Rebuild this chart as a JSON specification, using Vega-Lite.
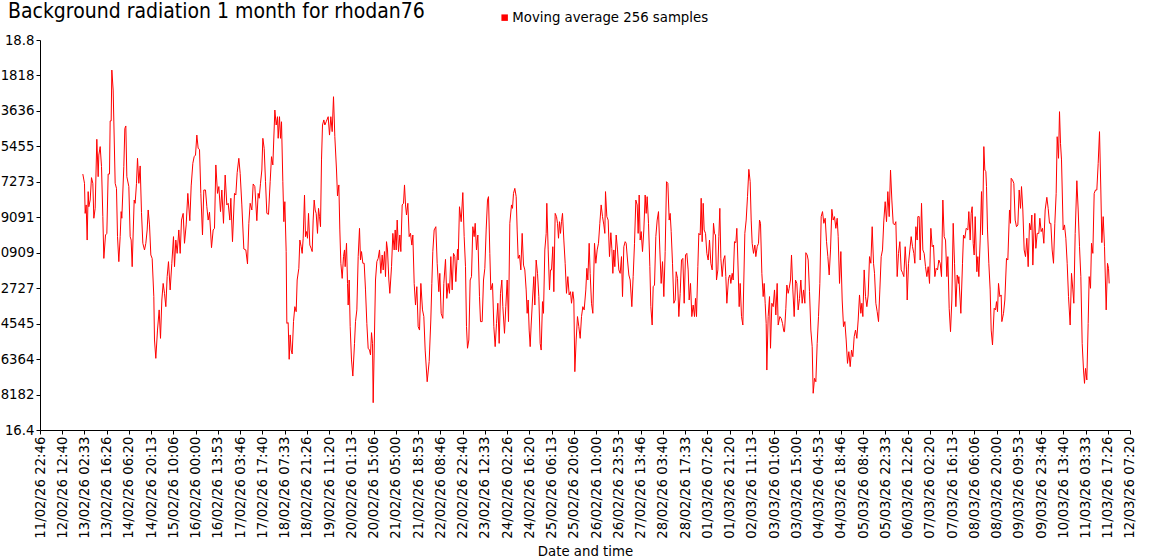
{
  "$schema": "https://vega.github.io/schema/vega-lite/v6.json",
  "autosize": {"type": "none"},
  "width": 1090,
  "height": 390,
  "padding": {"left": 40, "top": 40, "right": 20, "bottom": 130},
  "background": "white",
  "title": {
    "text": "Background radiation 1 month for rhodan76",
    "anchor": "start",
    "frame": "group",
    "orient": "top",
    "offset": 18,
    "dy": 29,
    "dx": -32,
    "font": "DejaVu Sans Condensed, Liberation Sans",
    "fontSize": 21,
    "fontWeight": "normal",
    "color": "#000000"
  },
  "config": {
    "view": {"stroke": null},
    "axis": {
      "grid": false,
      "domainColor": "#000000",
      "tickColor": "#000000",
      "labelColor": "#000000",
      "titleColor": "#000000",
      "labelFont": "DejaVu Sans",
      "titleFont": "DejaVu Sans",
      "labelFontSize": 13.3,
      "titleFontSize": 13.3,
      "titleFontWeight": "normal",
      "tickSize": 4,
      "domainWidth": 1,
      "tickWidth": 1
    }
  },
  "data": {
    "values": [
      {"h":26.74,"v":17.975},{"h":27.78,"v":17.918},{"h":28.20,"v":17.733},{"h":28.82,"v":17.785},{"h":29.45,"v":17.569},{"h":30.07,"v":17.867},{"h":30.49,"v":17.774},{"h":31.32,"v":17.815},{"h":32.15,"v":17.953},{"h":32.99,"v":17.918},{"h":33.61,"v":17.703},{"h":34.44,"v":17.764},{"h":35.48,"v":18.189},{"h":36.32,"v":17.959},{"h":36.73,"v":18.092},{"h":37.57,"v":18.144},{"h":38.40,"v":18.021},{"h":39.23,"v":17.713},{"h":39.86,"v":17.456},{"h":40.90,"v":17.600},{"h":41.73,"v":17.610},{"h":42.56,"v":17.975},{"h":43.39,"v":17.975},{"h":43.81,"v":18.302},{"h":44.43,"v":18.302},{"h":44.85,"v":18.615},{"h":45.68,"v":18.492},{"h":46.93,"v":17.918},{"h":47.76,"v":17.887},{"h":48.39,"v":17.590},{"h":49.22,"v":17.436},{"h":50.05,"v":17.590},{"h":50.68,"v":17.744},{"h":51.09,"v":17.703},{"h":52.34,"v":18.021},{"h":52.97,"v":18.256},{"h":53.59,"v":18.271},{"h":54.22,"v":17.959},{"h":55.47,"v":17.898},{"h":56.30,"v":17.590},{"h":56.92,"v":17.569},{"h":57.55,"v":17.405},{"h":58.80,"v":17.815},{"h":59.42,"v":17.795},{"h":60.25,"v":17.918},{"h":60.88,"v":18.072},{"h":61.71,"v":17.918},{"h":62.54,"v":18.025},{"h":63.37,"v":17.738},{"h":64.21,"v":17.549},{"h":65.25,"v":17.508},{"h":66.08,"v":17.549},{"h":66.91,"v":17.631},{"h":67.54,"v":17.754},{"h":68.37,"v":17.662},{"h":69.20,"v":17.477},{"h":70.03,"v":17.456},{"h":71.07,"v":17.221},{"h":71.49,"v":16.954},{"h":72.32,"v":16.841},{"h":73.36,"v":17.015},{"h":74.40,"v":17.139},{"h":75.24,"v":16.964},{"h":76.07,"v":17.200},{"h":76.90,"v":17.302},{"h":77.74,"v":17.241},{"h":78.57,"v":17.159},{"h":79.40,"v":17.344},{"h":80.23,"v":17.436},{"h":81.27,"v":17.262},{"h":82.31,"v":17.426},{"h":83.35,"v":17.590},{"h":83.98,"v":17.405},{"h":84.81,"v":17.569},{"h":85.64,"v":17.487},{"h":86.68,"v":17.631},{"h":87.52,"v":17.487},{"h":88.35,"v":17.692},{"h":89.39,"v":17.733},{"h":90.22,"v":17.549},{"h":91.26,"v":17.662},{"h":92.30,"v":17.856},{"h":93.55,"v":17.688},{"h":94.39,"v":17.902},{"h":95.43,"v":18.041},{"h":96.26,"v":18.082},{"h":97.09,"v":18.092},{"h":97.92,"v":18.215},{"h":98.76,"v":18.133},{"h":99.59,"v":18.127},{"h":100.42,"v":17.856},{"h":101.46,"v":17.600},{"h":102.29,"v":17.877},{"h":103.33,"v":17.877},{"h":104.17,"v":17.774},{"h":105.00,"v":17.692},{"h":105.83,"v":17.740},{"h":107.08,"v":17.522},{"h":108.12,"v":17.631},{"h":108.95,"v":17.641},{"h":109.79,"v":18.031},{"h":110.83,"v":17.856},{"h":111.66,"v":17.898},{"h":112.70,"v":17.744},{"h":113.53,"v":17.877},{"h":114.57,"v":17.672},{"h":115.61,"v":17.969},{"h":116.65,"v":17.785},{"h":117.49,"v":17.795},{"h":118.53,"v":17.692},{"h":119.15,"v":17.826},{"h":120.19,"v":17.559},{"h":121.44,"v":17.856},{"h":122.27,"v":17.846},{"h":123.11,"v":17.984},{"h":124.15,"v":18.072},{"h":124.98,"v":17.979},{"h":126.02,"v":17.785},{"h":127.27,"v":17.514},{"h":128.52,"v":17.508},{"h":129.56,"v":17.422},{"h":130.39,"v":17.672},{"h":131.22,"v":17.795},{"h":132.27,"v":17.754},{"h":133.10,"v":17.914},{"h":134.14,"v":17.898},{"h":135.39,"v":17.688},{"h":136.22,"v":17.856},
      {"h":136.85,"v":17.826},{"h":137.68,"v":17.918},{"h":138.51,"v":18.000},{"h":139.14,"v":18.195},{"h":139.97,"v":18.133},{"h":140.80,"v":17.928},{"h":141.63,"v":17.733},{"h":142.67,"v":17.727},{"h":143.71,"v":17.928},{"h":144.55,"v":18.082},{"h":145.38,"v":18.031},{"h":146.63,"v":18.369},{"h":147.46,"v":18.277},{"h":148.29,"v":18.328},{"h":148.71,"v":18.195},{"h":149.54,"v":18.328},{"h":150.17,"v":18.195},{"h":150.79,"v":18.297},{"h":151.62,"v":17.928},{"h":152.25,"v":17.682},{"h":152.87,"v":17.805},{"h":153.70,"v":17.498},{"h":154.12,"v":17.056},{"h":154.95,"v":17.061},{"h":155.58,"v":16.835},{"h":156.20,"v":16.985},{"h":156.83,"v":16.892},{"h":157.45,"v":16.868},{"h":158.28,"v":17.067},{"h":159.12,"v":17.159},{"h":159.95,"v":17.128},{"h":160.57,"v":17.323},{"h":161.61,"v":17.395},{"h":162.24,"v":17.569},{"h":163.07,"v":17.528},{"h":163.69,"v":17.487},{"h":164.32,"v":17.580},{"h":165.15,"v":17.846},{"h":165.78,"v":17.590},{"h":166.40,"v":17.621},{"h":167.02,"v":17.580},{"h":167.65,"v":17.733},{"h":168.48,"v":17.538},{"h":169.31,"v":17.518},{"h":169.94,"v":17.498},{"h":170.56,"v":17.692},{"h":171.19,"v":17.815},{"h":171.81,"v":17.754},{"h":172.44,"v":17.733},{"h":173.27,"v":17.610},{"h":173.89,"v":17.764},{"h":174.52,"v":17.713},{"h":175.14,"v":17.651},{"h":175.77,"v":18.062},{"h":176.39,"v":18.277},{"h":177.22,"v":18.308},{"h":177.85,"v":18.277},{"h":178.68,"v":18.297},{"h":179.93,"v":18.328},{"h":180.76,"v":18.215},{"h":181.59,"v":18.328},{"h":182.43,"v":18.236},{"h":183.26,"v":18.451},{"h":184.09,"v":18.205},{"h":185.13,"v":18.000},{"h":185.76,"v":17.840},{"h":186.59,"v":17.908},{"h":187.21,"v":17.631},{"h":187.84,"v":17.426},{"h":188.67,"v":17.333},{"h":189.50,"v":17.467},{"h":190.13,"v":17.508},{"h":190.54,"v":17.405},{"h":191.38,"v":17.549},{"h":192.00,"v":17.302},{"h":192.42,"v":17.169},{"h":193.04,"v":17.323},{"h":193.67,"v":17.036},{"h":194.50,"v":16.831},{"h":195.33,"v":16.732},{"h":196.37,"v":16.933},{"h":196.99,"v":17.067},{"h":197.83,"v":17.139},{"h":198.66,"v":17.467},{"h":199.49,"v":17.641},{"h":200.12,"v":17.446},{"h":200.74,"v":17.498},{"h":201.57,"v":17.426},{"h":202.41,"v":17.426},{"h":203.24,"v":17.262},{"h":204.07,"v":17.056},{"h":204.90,"v":16.903},{"h":205.74,"v":16.892},{"h":206.36,"v":16.862},{"h":206.99,"v":16.999},{"h":207.61,"v":16.933},{"h":208.03,"v":16.568},{"h":208.65,"v":16.892},{"h":209.48,"v":17.323},{"h":210.32,"v":17.436},{"h":211.15,"v":17.456},{"h":211.98,"v":17.508},{"h":212.81,"v":17.364},{"h":213.65,"v":17.477},{"h":214.27,"v":17.385},{"h":215.10,"v":17.498},{"h":215.73,"v":17.344},{"h":216.35,"v":17.559},{"h":216.98,"v":17.508},{"h":217.81,"v":17.323},{"h":218.43,"v":17.241},{"h":219.48,"v":17.405},{"h":220.31,"v":17.610},{"h":221.14,"v":17.508},{"h":221.77,"v":17.631},{"h":222.39,"v":17.508},{"h":223.01,"v":17.692},{"h":223.85,"v":17.498},{"h":224.68,"v":17.600},{"h":225.30,"v":17.498},{"h":226.14,"v":17.785},{"h":226.97,"v":17.795},{"h":227.59,"v":17.908},{"h":228.22,"v":17.785},{"h":228.84,"v":17.723},{"h":229.67,"v":17.795},{"h":230.51,"v":17.590},{"h":231.34,"v":17.610},{"h":232.17,"v":17.538},{"h":232.79,"v":17.600},{"h":233.63,"v":17.302},{"h":234.46,"v":17.169},{"h":235.29,"v":17.282},{"h":236.12,"v":17.036},{"h":236.96,"v":17.015},{"h":237.79,"v":17.302},{"h":238.83,"v":17.139},{"h":239.66,"v":17.098},{"h":240.49,"v":16.892},
      {"h":241.74,"v":16.697},{"h":242.98,"v":16.821},{"h":244.02,"v":17.077},{"h":244.65,"v":17.302},{"h":245.27,"v":17.498},{"h":246.11,"v":17.631},{"h":247.15,"v":17.651},{"h":247.98,"v":17.426},{"h":249.02,"v":17.251},{"h":249.64,"v":17.364},{"h":250.48,"v":17.118},{"h":251.52,"v":17.087},{"h":252.14,"v":17.302},{"h":253.18,"v":17.450},{"h":254.01,"v":17.210},{"h":254.85,"v":17.302},{"h":255.68,"v":17.241},{"h":256.51,"v":17.467},{"h":257.35,"v":17.262},{"h":258.18,"v":17.487},{"h":259.01,"v":17.467},{"h":259.63,"v":17.313},{"h":260.68,"v":17.512},{"h":261.09,"v":17.446},{"h":261.92,"v":17.774},{"h":262.96,"v":17.682},{"h":264.00,"v":17.861},{"h":264.84,"v":17.590},{"h":265.67,"v":17.405},{"h":266.29,"v":17.036},{"h":266.92,"v":16.903},{"h":267.75,"v":16.954},{"h":268.58,"v":17.323},{"h":269.42,"v":17.344},{"h":270.25,"v":17.651},{"h":271.08,"v":17.590},{"h":271.71,"v":17.672},{"h":272.54,"v":17.508},{"h":273.37,"v":17.600},{"h":274.41,"v":17.221},{"h":275.04,"v":17.067},{"h":276.08,"v":17.067},{"h":276.91,"v":17.323},{"h":277.74,"v":17.395},{"h":278.57,"v":17.631},{"h":279.41,"v":17.815},{"h":280.03,"v":17.836},{"h":280.86,"v":17.487},{"h":281.49,"v":17.262},{"h":282.53,"v":17.302},{"h":283.36,"v":17.036},{"h":284.19,"v":16.913},{"h":285.03,"v":17.056},{"h":285.86,"v":17.180},{"h":286.69,"v":16.933},{"h":287.52,"v":17.241},{"h":288.36,"v":17.323},{"h":288.98,"v":17.159},{"h":290.02,"v":16.995},{"h":290.85,"v":17.159},{"h":291.69,"v":17.323},{"h":292.52,"v":17.067},{"h":293.35,"v":17.672},{"h":294.39,"v":17.785},{"h":295.02,"v":17.764},{"h":295.64,"v":17.856},{"h":296.47,"v":17.887},{"h":297.31,"v":17.836},{"h":297.93,"v":17.631},{"h":298.55,"v":17.456},{"h":299.39,"v":17.477},{"h":300.22,"v":17.385},{"h":301.05,"v":17.610},{"h":301.89,"v":17.415},{"h":302.72,"v":17.385},{"h":303.55,"v":17.262},{"h":304.17,"v":17.118},{"h":304.80,"v":17.200},{"h":305.42,"v":17.015},{"h":306.05,"v":16.913},{"h":306.67,"v":17.046},{"h":307.50,"v":17.200},{"h":308.34,"v":17.344},{"h":308.96,"v":17.169},{"h":309.79,"v":17.446},{"h":310.63,"v":17.364},{"h":311.46,"v":17.221},{"h":312.29,"v":16.933},{"h":312.92,"v":16.892},{"h":313.75,"v":17.190},{"h":314.37,"v":17.118},{"h":315.20,"v":17.508},{"h":316.04,"v":17.610},{"h":316.45,"v":17.795},{"h":317.29,"v":17.508},{"h":318.12,"v":17.262},{"h":318.74,"v":17.385},{"h":319.37,"v":17.385},{"h":320.20,"v":17.528},{"h":320.83,"v":17.251},{"h":321.66,"v":17.733},{"h":322.49,"v":17.713},{"h":323.11,"v":17.672},{"h":323.74,"v":17.580},{"h":324.36,"v":17.682},{"h":324.99,"v":17.610},{"h":325.61,"v":17.682},{"h":326.24,"v":17.733},{"h":327.07,"v":17.569},{"h":327.90,"v":17.426},{"h":328.73,"v":17.241},{"h":329.57,"v":17.344},{"h":330.40,"v":17.231},{"h":331.23,"v":17.251},{"h":331.86,"v":17.180},{"h":332.69,"v":17.251},{"h":333.31,"v":17.200},{"h":333.94,"v":16.759},{"h":334.77,"v":16.954},{"h":335.60,"v":17.098},{"h":336.43,"v":17.036},{"h":337.27,"v":16.964},{"h":338.10,"v":17.098},{"h":338.93,"v":17.159},{"h":339.76,"v":17.139},{"h":340.80,"v":17.262},{"h":341.43,"v":17.395},{"h":342.05,"v":17.323},{"h":342.88,"v":17.549},{"h":343.51,"v":17.364},{"h":344.34,"v":17.180},{"h":345.18,"v":17.118},{"h":346.22,"v":17.549},{"h":347.05,"v":17.426},{"h":347.88,"v":17.508},{"h":348.71,"v":17.549},{"h":349.55,"v":17.672},{"h":350.38,"v":17.785},{"h":351.21,"v":17.713},{"h":352.04,"v":17.662},{"h":352.67,"v":17.610},{"h":353.09,"v":17.867},{"h":353.92,"v":17.713},{"h":354.75,"v":17.692},
      {"h":355.58,"v":17.467},{"h":356.42,"v":17.614},{"h":357.04,"v":17.518},{"h":357.67,"v":17.364},{"h":358.29,"v":17.508},{"h":358.91,"v":17.405},{"h":359.75,"v":17.600},{"h":360.58,"v":17.508},{"h":361.41,"v":17.385},{"h":362.24,"v":17.364},{"h":363.08,"v":17.467},{"h":363.70,"v":17.221},{"h":364.53,"v":17.528},{"h":365.37,"v":17.559},{"h":365.99,"v":17.549},{"h":366.82,"v":17.446},{"h":367.66,"v":17.354},{"h":368.49,"v":17.323},{"h":369.53,"v":17.159},{"h":370.36,"v":17.344},{"h":371.19,"v":17.549},{"h":372.03,"v":17.815},{"h":372.86,"v":17.785},{"h":373.48,"v":17.610},{"h":374.11,"v":17.846},{"h":374.73,"v":17.569},{"h":375.36,"v":17.621},{"h":376.19,"v":17.498},{"h":377.02,"v":17.631},{"h":377.85,"v":17.846},{"h":378.48,"v":17.733},{"h":379.10,"v":17.836},{"h":379.94,"v":17.672},{"h":380.77,"v":17.405},{"h":381.39,"v":17.159},{"h":382.22,"v":17.046},{"h":382.85,"v":17.282},{"h":383.68,"v":17.292},{"h":384.51,"v":17.590},{"h":385.35,"v":17.692},{"h":386.18,"v":17.744},{"h":387.01,"v":17.508},{"h":387.84,"v":17.302},{"h":388.68,"v":17.436},{"h":389.51,"v":17.221},{"h":390.34,"v":17.498},{"h":391.17,"v":17.928},{"h":392.01,"v":17.918},{"h":392.84,"v":17.692},{"h":393.46,"v":17.733},{"h":394.09,"v":17.621},{"h":394.92,"v":17.426},{"h":395.75,"v":17.180},{"h":396.59,"v":17.200},{"h":397.21,"v":17.374},{"h":398.04,"v":17.333},{"h":398.87,"v":17.098},{"h":399.71,"v":17.241},{"h":400.54,"v":17.446},{"h":401.37,"v":17.456},{"h":402.21,"v":17.180},{"h":403.04,"v":17.477},{"h":403.87,"v":17.487},{"h":404.70,"v":17.385},{"h":405.33,"v":17.200},{"h":406.16,"v":17.302},{"h":406.99,"v":17.098},{"h":407.82,"v":17.169},{"h":408.66,"v":17.098},{"h":409.28,"v":17.210},{"h":409.91,"v":17.098},{"h":410.74,"v":17.405},{"h":411.36,"v":17.610},{"h":412.20,"v":17.600},{"h":412.82,"v":17.826},{"h":413.44,"v":17.559},{"h":414.07,"v":17.795},{"h":414.69,"v":17.631},{"h":415.53,"v":17.610},{"h":416.36,"v":17.487},{"h":417.19,"v":17.446},{"h":418.02,"v":17.569},{"h":418.86,"v":17.426},{"h":419.69,"v":17.385},{"h":420.52,"v":17.672},{"h":421.14,"v":17.610},{"h":421.77,"v":17.600},{"h":422.39,"v":17.323},{"h":423.23,"v":17.385},{"h":423.85,"v":17.590},{"h":424.47,"v":17.764},{"h":425.10,"v":17.456},{"h":425.93,"v":17.344},{"h":426.76,"v":17.446},{"h":427.60,"v":17.473},{"h":428.22,"v":17.344},{"h":428.85,"v":17.180},{"h":429.89,"v":17.333},{"h":430.72,"v":17.354},{"h":431.34,"v":17.302},{"h":432.18,"v":17.364},{"h":432.80,"v":17.323},{"h":433.63,"v":17.559},{"h":434.47,"v":17.553},{"h":435.09,"v":17.641},{"h":435.72,"v":17.446},{"h":436.55,"v":17.159},{"h":437.17,"v":17.302},{"h":438.00,"v":17.098},{"h":438.84,"v":17.046},{"h":439.46,"v":17.323},{"h":440.08,"v":17.610},{"h":440.92,"v":17.692},{"h":441.75,"v":17.836},{"h":442.58,"v":18.004},{"h":443.41,"v":17.928},{"h":444.04,"v":17.692},{"h":444.66,"v":17.549},{"h":445.50,"v":17.487},{"h":446.33,"v":17.538},{"h":446.95,"v":17.467},{"h":447.79,"v":17.528},{"h":448.62,"v":17.549},{"h":449.24,"v":17.692},{"h":449.87,"v":17.672},{"h":450.70,"v":17.364},{"h":451.53,"v":17.221},{"h":452.16,"v":17.302},{"h":452.78,"v":17.180},{"h":453.41,"v":17.056},{"h":453.82,"v":16.769},{"h":454.65,"v":17.098},{"h":455.49,"v":17.221},{"h":456.11,"v":16.903},{"h":456.94,"v":17.180},{"h":457.78,"v":17.159},{"h":458.61,"v":17.262},{"h":459.44,"v":17.108},{"h":460.27,"v":17.302},{"h":460.90,"v":17.046},{"h":461.94,"v":17.098},{"h":462.77,"v":17.087},{"h":463.61,"v":17.056},{"h":464.44,"v":17.005},
      {"h":464.85,"v":17.005},{"h":465.69,"v":17.149},{"h":466.31,"v":17.292},{"h":467.14,"v":17.241},{"h":467.77,"v":17.272},{"h":468.60,"v":17.323},{"h":469.22,"v":17.477},{"h":470.06,"v":17.262},{"h":470.89,"v":17.098},{"h":471.72,"v":17.323},{"h":472.55,"v":17.302},{"h":473.39,"v":17.139},{"h":474.22,"v":17.210},{"h":475.05,"v":17.323},{"h":475.88,"v":17.180},{"h":476.72,"v":17.262},{"h":477.55,"v":17.180},{"h":478.17,"v":17.491},{"h":479.01,"v":17.477},{"h":479.63,"v":17.446},{"h":480.46,"v":17.251},{"h":481.30,"v":17.015},{"h":482.13,"v":16.913},{"h":482.75,"v":16.626},{"h":483.59,"v":16.718},{"h":484.42,"v":16.697},{"h":485.25,"v":16.933},{"h":486.08,"v":17.098},{"h":486.92,"v":17.302},{"h":487.75,"v":17.713},{"h":488.58,"v":17.744},{"h":489.41,"v":17.672},{"h":490.25,"v":17.703},{"h":491.08,"v":17.559},{"h":491.91,"v":17.467},{"h":492.74,"v":17.354},{"h":493.58,"v":17.508},{"h":494.41,"v":17.758},{"h":495.24,"v":17.692},{"h":496.07,"v":17.713},{"h":496.91,"v":17.641},{"h":497.74,"v":17.703},{"h":498.36,"v":17.590},{"h":499.20,"v":17.302},{"h":500.03,"v":17.498},{"h":500.86,"v":17.200},{"h":501.69,"v":17.036},{"h":502.53,"v":17.067},{"h":503.36,"v":16.954},{"h":504.19,"v":16.810},{"h":505.02,"v":16.882},{"h":505.86,"v":16.790},{"h":506.69,"v":16.892},{"h":507.52,"v":16.851},{"h":508.35,"v":16.974},{"h":509.19,"v":17.015},{"h":510.02,"v":16.964},{"h":510.85,"v":17.077},{"h":511.68,"v":17.231},{"h":512.52,"v":17.118},{"h":513.14,"v":17.180},{"h":513.77,"v":17.098},{"h":514.60,"v":17.385},{"h":515.43,"v":17.221},{"h":516.26,"v":17.159},{"h":517.10,"v":17.231},{"h":517.93,"v":17.467},{"h":518.76,"v":17.426},{"h":519.59,"v":17.651},{"h":520.43,"v":17.426},{"h":521.05,"v":17.364},{"h":521.88,"v":17.180},{"h":522.71,"v":17.128},{"h":523.55,"v":17.067},{"h":524.38,"v":17.262},{"h":525.21,"v":17.467},{"h":526.04,"v":17.508},{"h":526.88,"v":17.692},{"h":527.71,"v":17.805},{"h":528.54,"v":17.682},{"h":529.37,"v":17.867},{"h":530.21,"v":17.713},{"h":531.04,"v":18.000},{"h":531.87,"v":17.815},{"h":532.70,"v":17.672},{"h":533.54,"v":17.662},{"h":534.37,"v":17.682},{"h":535.20,"v":17.344},{"h":536.03,"v":17.487},{"h":536.87,"v":17.559},{"h":537.70,"v":17.385},{"h":538.53,"v":17.368},{"h":539.36,"v":17.344},{"h":540.20,"v":17.528},{"h":541.03,"v":17.385},{"h":541.45,"v":17.200},{"h":542.28,"v":17.426},{"h":543.11,"v":17.508},{"h":543.94,"v":17.590},{"h":544.78,"v":17.528},{"h":545.61,"v":17.487},{"h":546.23,"v":17.426},{"h":546.86,"v":17.651},{"h":547.69,"v":17.569},{"h":548.11,"v":17.713},{"h":548.94,"v":17.713},{"h":549.56,"v":17.446},{"h":550.40,"v":17.795},{"h":551.23,"v":17.508},{"h":552.06,"v":17.487},{"h":552.89,"v":17.405},{"h":553.73,"v":17.344},{"h":554.56,"v":17.405},{"h":555.39,"v":17.302},{"h":556.22,"v":17.641},{"h":557.06,"v":17.528},{"h":557.89,"v":17.538},{"h":558.72,"v":17.344},{"h":559.55,"v":17.395},{"h":560.39,"v":17.385},{"h":561.22,"v":17.446},{"h":562.05,"v":17.426},{"h":562.88,"v":17.344},{"h":563.72,"v":17.815},{"h":564.55,"v":17.590},{"h":565.38,"v":17.569},{"h":566.21,"v":17.344},{"h":566.84,"v":17.467},{"h":567.67,"v":17.149},{"h":568.50,"v":17.005},{"h":569.34,"v":17.200},{"h":570.17,"v":17.672},{"h":571.00,"v":17.426},{"h":571.83,"v":17.159},{"h":572.67,"v":17.354},{"h":573.50,"v":17.302},
      {"h":573.70,"v":17.344},{"h":574.95,"v":17.118},{"h":575.99,"v":17.426},{"h":576.61,"v":17.600},{"h":577.44,"v":17.580},{"h":578.28,"v":17.641},{"h":579.32,"v":17.631},{"h":579.94,"v":17.744},{"h":580.77,"v":17.569},{"h":581.40,"v":17.733},{"h":582.02,"v":17.774},{"h":582.65,"v":17.549},{"h":583.27,"v":17.477},{"h":583.90,"v":17.713},{"h":584.94,"v":17.374},{"h":585.56,"v":17.467},{"h":586.19,"v":17.344},{"h":587.02,"v":17.569},{"h":587.85,"v":17.867},{"h":588.47,"v":17.600},{"h":589.31,"v":18.144},{"h":589.93,"v":18.000},{"h":590.56,"v":17.990},{"h":590.97,"v":17.898},{"h":591.60,"v":17.631},{"h":592.43,"v":17.426},{"h":593.26,"v":17.262},{"h":593.89,"v":17.015},{"h":594.72,"v":16.923},{"h":595.76,"v":17.149},{"h":596.59,"v":17.139},{"h":597.22,"v":17.190},{"h":597.84,"v":17.128},{"h":598.47,"v":17.302},{"h":599.30,"v":17.221},{"h":600.13,"v":17.231},{"h":600.55,"v":17.067},{"h":601.59,"v":17.118},{"h":602.42,"v":17.200},{"h":603.46,"v":17.456},{"h":604.29,"v":17.446},{"h":605.33,"v":17.754},{"h":605.96,"v":17.672},{"h":606.37,"v":17.949},{"h":607.21,"v":17.938},{"h":608.04,"v":17.918},{"h":608.87,"v":17.692},{"h":609.70,"v":17.651},{"h":610.54,"v":17.662},{"h":611.37,"v":17.877},{"h":612.20,"v":17.764},{"h":612.83,"v":17.898},{"h":613.66,"v":17.754},{"h":614.49,"v":17.508},{"h":615.32,"v":17.467},{"h":616.16,"v":17.580},{"h":616.99,"v":17.405},{"h":617.82,"v":17.672},{"h":618.65,"v":17.631},{"h":619.28,"v":17.723},{"h":619.90,"v":17.415},{"h":620.53,"v":17.600},{"h":621.15,"v":17.733},{"h":621.78,"v":17.518},{"h":622.61,"v":17.610},{"h":623.65,"v":17.610},{"h":624.27,"v":17.703},{"h":625.11,"v":17.621},{"h":625.94,"v":17.641},{"h":626.77,"v":17.549},{"h":627.60,"v":17.754},{"h":628.64,"v":17.832},{"h":629.48,"v":17.764},{"h":630.31,"v":17.672},{"h":631.14,"v":17.672},{"h":631.97,"v":17.508},{"h":632.81,"v":17.426},{"h":633.64,"v":17.672},{"h":634.47,"v":17.856},{"h":635.10,"v":18.205},{"h":635.93,"v":18.072},{"h":636.55,"v":18.359},{"h":637.18,"v":18.164},{"h":637.80,"v":18.062},{"h":638.84,"v":17.631},{"h":639.67,"v":17.662},{"h":640.51,"v":17.580},{"h":641.34,"v":17.426},{"h":642.17,"v":17.221},{"h":643.21,"v":17.046},{"h":644.05,"v":17.364},{"h":644.88,"v":17.262},{"h":645.50,"v":17.180},{"h":646.34,"v":17.610},{"h":647.38,"v":17.934},{"h":648.21,"v":17.754},{"h":649.04,"v":17.528},{"h":649.87,"v":17.344},{"h":650.71,"v":16.933},{"h":651.54,"v":16.769},{"h":652.16,"v":16.687},{"h":652.79,"v":16.779},{"h":653.62,"v":16.708},{"h":654.45,"v":17.056},{"h":655.08,"v":17.344},{"h":655.91,"v":17.272},{"h":656.53,"v":17.549},{"h":657.37,"v":17.487},{"h":658.20,"v":17.856},{"h":659.03,"v":17.877},{"h":659.86,"v":17.877},{"h":660.70,"v":18.041},{"h":661.53,"v":18.236},{"h":662.36,"v":17.877},{"h":662.99,"v":17.553},{"h":663.82,"v":17.713},{"h":664.65,"v":17.528},{"h":665.69,"v":17.139},{"h":666.52,"v":17.426},{"h":667.15,"v":17.395},{"h":667.57,"v":17.302}
    ]
  },
  "mark": {"type": "line", "strokeWidth": 1, "interpolate": "linear"},
  "encoding": {
    "x": {
      "field": "h",
      "type": "quantitative",
      "scale": {"domain": [0, 680.5667], "nice": false, "zero": false},
      "axis": {
        "title": "Date and time",
        "titlePadding": 6,
        "labelAngle": -90,
        "labelPadding": 2,
        "labelOverlap": false,
        "labelFlush": false,
        "values": [0, 13.8891, 27.7782, 41.6673, 55.5564, 69.4455, 83.3346, 97.2237, 111.1128, 125.0019, 138.891, 152.7801, 166.6692, 180.5583, 194.4474, 208.3365, 222.2256, 236.1147, 250.0038, 263.8929, 277.782, 291.6711, 305.5602, 319.4493, 333.3384, 347.2275, 361.1166, 375.0057, 388.8948, 402.7839, 416.673, 430.5621, 444.4512, 458.3403, 472.2294, 486.1185, 500.0076, 513.8967, 527.7858, 541.6749, 555.564, 569.4531, 583.3422, 597.2313, 611.1204, 625.0095, 638.8986, 652.7877, 666.6768, 680.5659],
        "labelExpr": "['11/02/26 22:46','12/02/26 12:40','13/02/26 02:33','13/02/26 16:26','14/02/26 06:20','14/02/26 20:13','15/02/26 10:06','16/02/26 00:00','16/02/26 13:53','17/02/26 03:46','17/02/26 17:40','18/02/26 07:33','18/02/26 21:26','19/02/26 11:20','20/02/26 01:13','20/02/26 15:06','21/02/26 05:00','21/02/26 18:53','22/02/26 08:46','22/02/26 22:40','23/02/26 12:33','24/02/26 02:26','24/02/26 16:20','25/02/26 06:13','25/02/26 20:06','26/02/26 10:00','26/02/26 23:53','27/02/26 13:46','28/02/26 03:40','28/02/26 17:33','01/03/26 07:26','01/03/26 21:20','02/03/26 11:13','03/03/26 01:06','03/03/26 15:00','04/03/26 04:53','04/03/26 18:46','05/03/26 08:40','05/03/26 22:33','06/03/26 12:26','07/03/26 02:20','07/03/26 16:13','08/03/26 06:06','08/03/26 20:00','09/03/26 09:53','09/03/26 23:46','10/03/26 13:40','11/03/26 03:33','11/03/26 17:26','12/03/26 07:20'][round(datum.value / 13.8891)]"
      }
    },
    "y": {
      "field": "v",
      "type": "quantitative",
      "scale": {"domain": [16.4, 18.8], "nice": false, "zero": false},
      "axis": {
        "title": null,
        "labelPadding": 2,
        "labelOverlap": false,
        "labelFlush": false,
        "values": [18.8, 18.581818, 18.363636, 18.145455, 17.927273, 17.709091, 17.490909, 17.272727, 17.054545, 16.836364, 16.618182, 16.4],
        "labelExpr": "datum.value > 18.79 || datum.value < 16.41 ? format(datum.value, '.1f') : slice(format(datum.value, '.6f'), -4)"
      }
    },
    "color": {
      "datum": "Moving average 256 samples",
      "type": "nominal",
      "scale": {"domain": ["Moving average 256 samples"], "range": ["#ff0000"]},
      "legend": {
        "title": null,
        "orient": "none",
        "legendX": 458,
        "legendY": -29,
        "symbolType": "square",
        "symbolSize": 42,
        "symbolStrokeWidth": 0,
        "labelFont": "DejaVu Sans",
        "labelFontSize": 13.3,
        "labelColor": "#000000",
        "labelOffset": 1,
        "labelLimit": 0,
        "padding": 0,
        "encode": {"symbols": {"update": {"fill": {"value": "#ff0000"}, "stroke": {"value": "#ff0000"}, "opacity": {"value": 1}}}}
      }
    }
  }
}
